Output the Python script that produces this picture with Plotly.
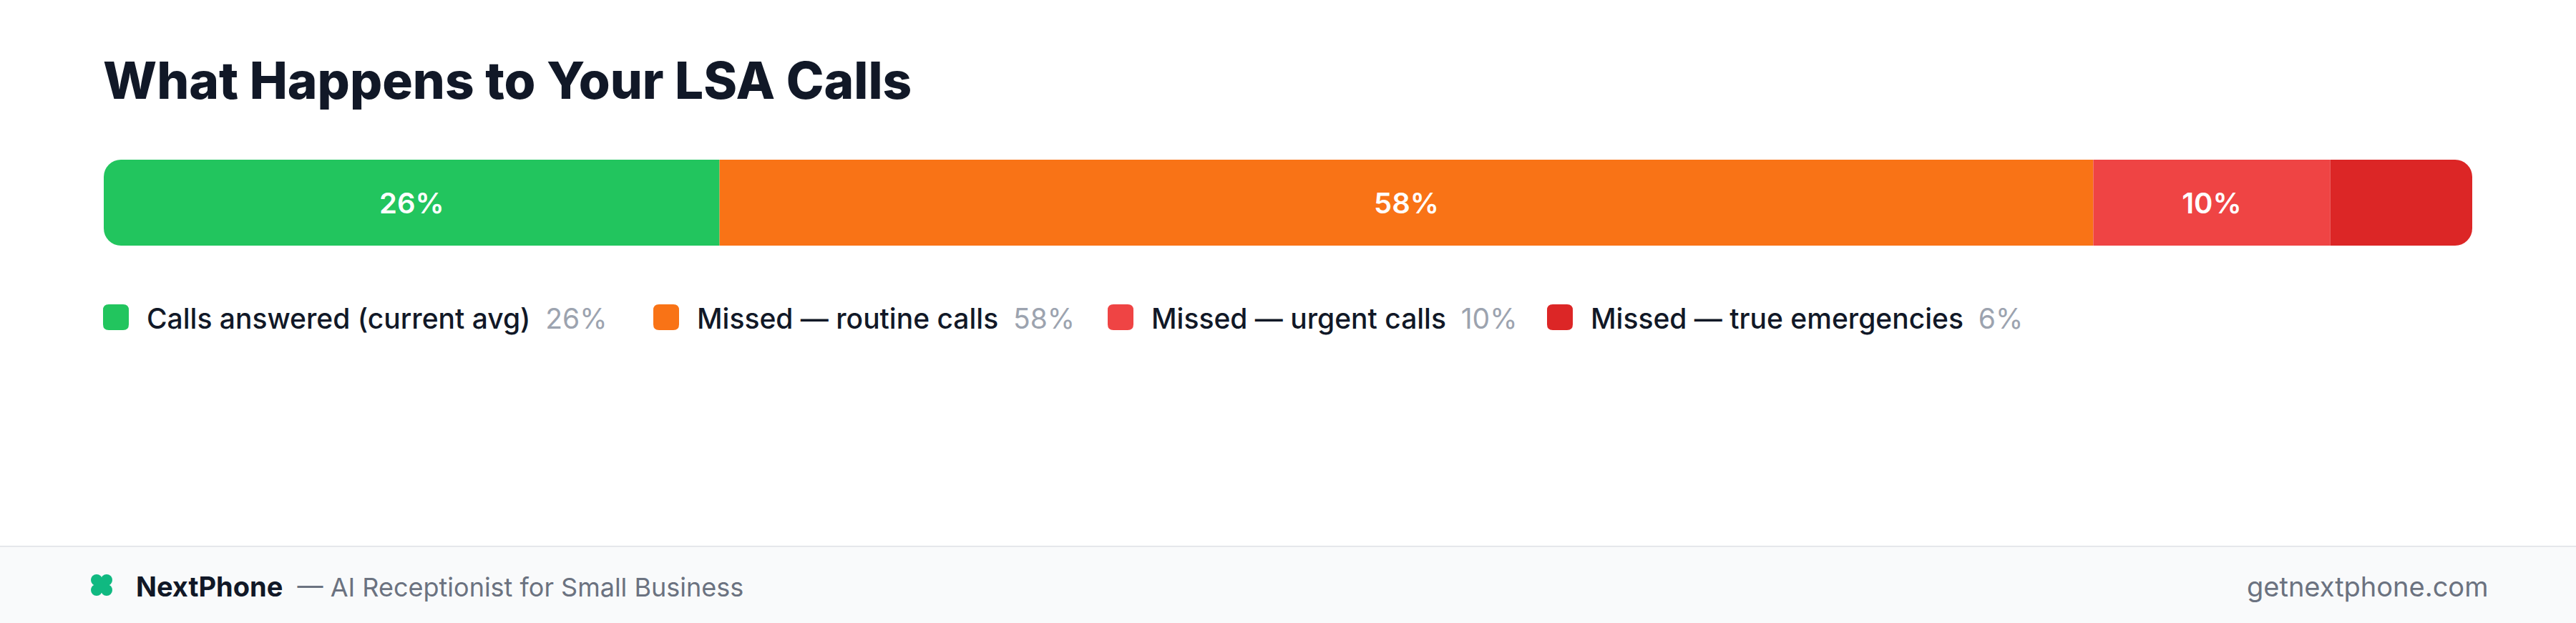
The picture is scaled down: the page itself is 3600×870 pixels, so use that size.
import plotly.graph_objects as go

# ---- data ----
categories = ["Calls answered (current avg)", "Missed — routine calls",
              "Missed — urgent calls", "Missed — true emergencies"]
values = [26, 58, 10, 6]
colors = ["#22C55E", "#F97316", "#EF4444", "#DC2626"]
title_text = "What Happens to Your LSA Calls"
brand = "NextPhone"
tagline = "— AI Receptionist for Small Business"
site = "getnextphone.com"

# ---- layout constants (pixels) ----
W, H = 3600, 870
BAR_L, BAR_R, BAR_T, BAR_B = 145, 3455, 223, 343
LEGEND_X = [144, 913, 1548, 2162]
LEGEND_Y = 443
SQ = 36
FONT = "Inter"

fig = go.Figure()

# relative stacking: first segment stacks to the left of 0, the rest to the right,
# so only the two outer ends of the whole bar get rounded corners
for i, (cat, v, c) in enumerate(zip(categories, values, colors)):
    label = f"{v}%" if v >= 8 else ""
    xval = -v if i == 0 else v
    fig.add_trace(go.Bar(
        y=[0], x=[xval], orientation="h", width=1,
        marker=dict(color=c, line=dict(width=0)),
        text=[label], textposition="inside", insidetextanchor="middle",
        textangle=0,
        textfont=dict(family=FONT, size=40, color="white", weight=600),
        name=cat, showlegend=False, hoverinfo="skip",
    ))

x_range = [-values[0], sum(values[1:])]

# invisible helper trace for the pixel overlay axes
fig.add_trace(go.Scatter(x=[0], y=[0], xaxis="x2", yaxis="y2", mode="markers",
                         marker=dict(opacity=0), showlegend=False, hoverinfo="skip"))

shapes = []
annotations = []

# footer
shapes.append(dict(type="rect", xref="x2", yref="y2", x0=0, x1=W, y0=763, y1=H,
                   fillcolor="#F9FAFB", line=dict(width=0), layer="below"))
shapes.append(dict(type="line", xref="x2", yref="y2", x0=0, x1=W, y0=763, y1=763,
                   line=dict(color="#E5E7EB", width=2), layer="below"))


def rrect(x0, y0, x1, y1, r):
    return (f"M {x0+r},{y0} L {x1-r},{y0} Q {x1},{y0} {x1},{y0+r} "
            f"L {x1},{y1-r} Q {x1},{y1} {x1-r},{y1} L {x0+r},{y1} "
            f"Q {x0},{y1} {x0},{y1-r} L {x0},{y0+r} Q {x0},{y0} {x0+r},{y0} Z")


# custom legend
for cat, v, c, lx in zip(categories, values, colors, LEGEND_X):
    shapes.append(dict(type="path", xref="x2", yref="y2",
                       path=rrect(lx, LEGEND_Y - SQ / 2, lx + SQ, LEGEND_Y + SQ / 2, 8),
                       fillcolor=c, line=dict(width=0), layer="above"))
    annotations.append(dict(
        xref="x2", yref="y2", x=lx + SQ + 23, y=LEGEND_Y + 1, xanchor="left", yanchor="middle",
        text=f"{cat}\u00a0\u00a0<span style='color:#9CA3AF;font-weight:400'>{v}%</span>",
        showarrow=False, font=dict(family=FONT, size=39, color="#111827", weight=500)))

# title
annotations.append(dict(xref="x2", yref="y2", x=142, y=112, xanchor="left", yanchor="middle",
                        text=title_text, showarrow=False,
                        font=dict(family=FONT, size=71, color="#111827", weight=800)))

# footer icon (four-leaf mark)
cx, cy = 142, 817
for dx in (-7, 7):
    for dy in (-7, 7):
        shapes.append(dict(type="circle", xref="x2", yref="y2",
                           x0=cx + dx - 8, x1=cx + dx + 8, y0=cy + dy - 8, y1=cy + dy + 8,
                           fillcolor="#10B981", line=dict(width=0), layer="above"))
shapes.append(dict(type="rect", xref="x2", yref="y2", x0=cx - 8, x1=cx + 8, y0=cy - 8, y1=cy + 8,
                   fillcolor="#10B981", line=dict(width=0), layer="above"))

annotations.append(dict(xref="x2", yref="y2", x=188, y=819, xanchor="left", yanchor="middle",
                        text=(f"<span style='font-size:38px'><b>{brand}</b></span>\u00a0\u00a0"
                              f"<span style='color:#6B7280;font-weight:400'>{tagline}</span>"),
                        showarrow=False,
                        font=dict(family=FONT, size=36, color="#111827", weight=400)))
annotations.append(dict(xref="x2", yref="y2", x=3479, y=819, xanchor="right", yanchor="middle",
                        text=site, showarrow=False,
                        font=dict(family=FONT, size=38, color="#6B7280", weight=400)))

fig.update_layout(
    width=W, height=H,
    margin=dict(l=0, r=0, t=0, b=0),
    paper_bgcolor="white", plot_bgcolor="rgba(0,0,0,0)",
    barmode="relative", barcornerradius=24,
    xaxis=dict(domain=[BAR_L / W, BAR_R / W], range=x_range, visible=False, fixedrange=True),
    yaxis=dict(domain=[1 - BAR_B / H, 1 - BAR_T / H], range=[-0.5, 0.5], visible=False, fixedrange=True),
    xaxis2=dict(domain=[0, 1], range=[0, W], visible=False, anchor="y2", fixedrange=True),
    yaxis2=dict(domain=[0, 1], range=[H, 0], visible=False, anchor="x2", fixedrange=True),
    shapes=shapes, annotations=annotations,
    showlegend=False,
)

fig.write_html("out.html", config={"displayModeBar": False},
               post_script="document.body.style.margin='0';document.body.style.padding='0';")
